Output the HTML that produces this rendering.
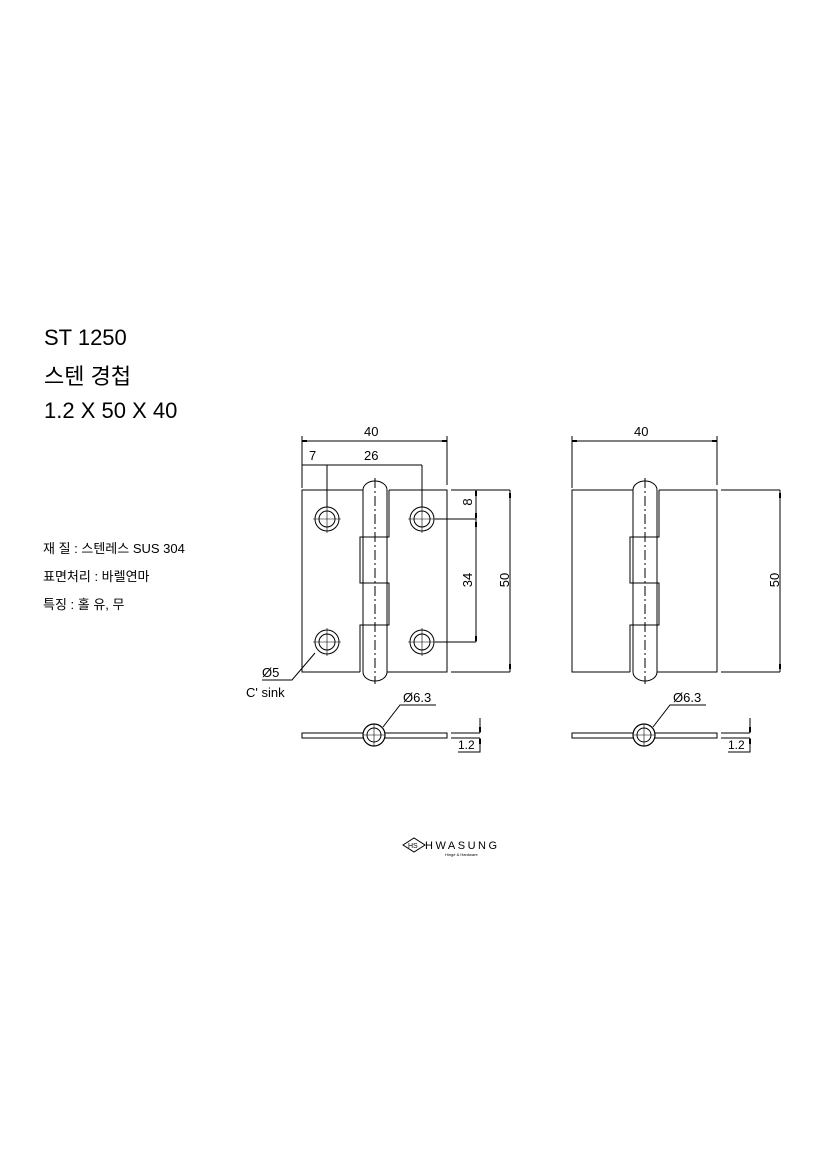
<!DOCTYPE html>
<html><head><meta charset="utf-8"><style>
html,body{margin:0;padding:0;background:#fff}
svg{display:block}
text{font-family:"Liberation Sans","Noto Sans CJK KR",sans-serif;fill:#000}
</style></head><body>
<svg width="827" height="1169" viewBox="0 0 827 1169" xmlns="http://www.w3.org/2000/svg">
<defs>
<g id="plate" fill="none" stroke="#000" stroke-width="1">
  <path d="M363,490 H302 V672 H360"/>
  <path d="M389,490 H447 V672 H387"/>
  <path d="M363,490 V672 A12,9 0 0 0 387,672 V490 A12,9 0 0 0 363,490"/>
  <path d="M389,490 V537 H360 V583 H389 V625 H360 V672"/>
  <line x1="375" y1="478" x2="375" y2="684" stroke-dasharray="10,3,2,3"/>
  <rect x="302" y="733" width="145" height="5"/>
  <circle cx="374" cy="735" r="11" fill="#fff" stroke-width="1.2"/>
  <circle cx="374" cy="735" r="7"/>
  <line x1="374" y1="724" x2="374" y2="746" stroke-width="0.6"/>
  <line x1="363" y1="735" x2="385" y2="735" stroke-width="0.6"/>
  <path d="M383,727 L400,705 H436"/>
  <path d="M451,733 H480 M451,738 H480 M480,718 V733 M480,738 V752 H458"/>
  <path d="M302,436 V488 M447,436 V485 M302,441 H447"/>
  <path d="M451,490 H510 M451,672 H510 M510,490 V672"/>
</g>
</defs>
<text x="44" y="345" font-size="22">ST 1250</text>
<text x="44" y="384" font-size="22">스텐 경첩</text>
<text x="44" y="418" font-size="22">1.2 X 50 X 40</text>
<text x="43" y="553" font-size="13">재 질 : 스텐레스 SUS 304</text>
<text x="43" y="581" font-size="13">표면처리 : 바렐연마</text>
<text x="43" y="609" font-size="13">특징 : 홀 유, 무</text>

<use href="#plate"/>
<use href="#plate" x="270"/>

<g fill="none" stroke="#000" stroke-width="1">
  <circle cx="327" cy="519" r="12"/><circle cx="327" cy="519" r="8"/>
  <circle cx="422" cy="519" r="12"/><circle cx="422" cy="519" r="8"/>
  <circle cx="327" cy="642" r="12"/><circle cx="327" cy="642" r="8"/>
  <circle cx="422" cy="642" r="12"/><circle cx="422" cy="642" r="8"/>
  <g stroke-width="0.6">
    <path d="M327,505 V533 M313,519 H341 M422,505 V533 M408,519 H436 M327,628 V656 M313,642 H341 M422,628 V656 M408,642 H436"/>
  </g>
  <path d="M302,465 H422 M327,465 V507 M422,465 V507"/>
  <path d="M435,519 H476 M435,642 H476 M476,490 V642"/>
  <path d="M315,653 L292,680 H262"/>
</g>
<g fill="#000">
  <rect x="302" y="440" width="5" height="2"/><rect x="442" y="440" width="5" height="2"/>
  <rect x="572" y="440" width="5" height="2"/><rect x="712" y="440" width="5" height="2"/>
  <rect x="509" y="493" width="2" height="5"/><rect x="509" y="664" width="2" height="5"/>
  <rect x="779" y="493" width="2" height="5"/><rect x="779" y="664" width="2" height="5"/>
  <rect x="475" y="491" width="2" height="5"/><rect x="475" y="513" width="2" height="5"/>
  <rect x="475" y="522" width="2" height="5"/><rect x="475" y="636" width="2" height="5"/>
  <rect x="479" y="727" width="2" height="5"/><rect x="479" y="739" width="2" height="5"/>
  <rect x="749" y="727" width="2" height="5"/><rect x="749" y="739" width="2" height="5"/>
</g>
<g font-size="13">
  <text x="364" y="436">40</text>
  <text x="634" y="436">40</text>
  <text x="309" y="460">7</text>
  <text x="364" y="460">26</text>
  <text x="403" y="702">Ø6.3</text>
  <text x="673" y="702">Ø6.3</text>
  <text x="458" y="749" font-size="12">1.2</text>
  <text x="728" y="749" font-size="12">1.2</text>
  <text x="262" y="677">Ø5</text>
  <text x="246" y="697">C' sink</text>
  <text transform="translate(472,502) rotate(-90)" text-anchor="middle">8</text>
  <text transform="translate(472,580) rotate(-90)" text-anchor="middle">34</text>
  <text transform="translate(509,580) rotate(-90)" text-anchor="middle">50</text>
  <text transform="translate(779,580) rotate(-90)" text-anchor="middle">50</text>
</g>
<g>
  <path d="M403,845 L414,838 L425,845 L414,852 Z" fill="none" stroke="#000" stroke-width="1"/>
  <text x="408" y="848" font-size="7">HS</text>
  <text x="425" y="849" font-size="11" letter-spacing="2.5">HWASUNG</text>
  <text x="445" y="856" font-size="4">Hinge &amp; Hardware</text>
</g>
</svg>
</body></html>
